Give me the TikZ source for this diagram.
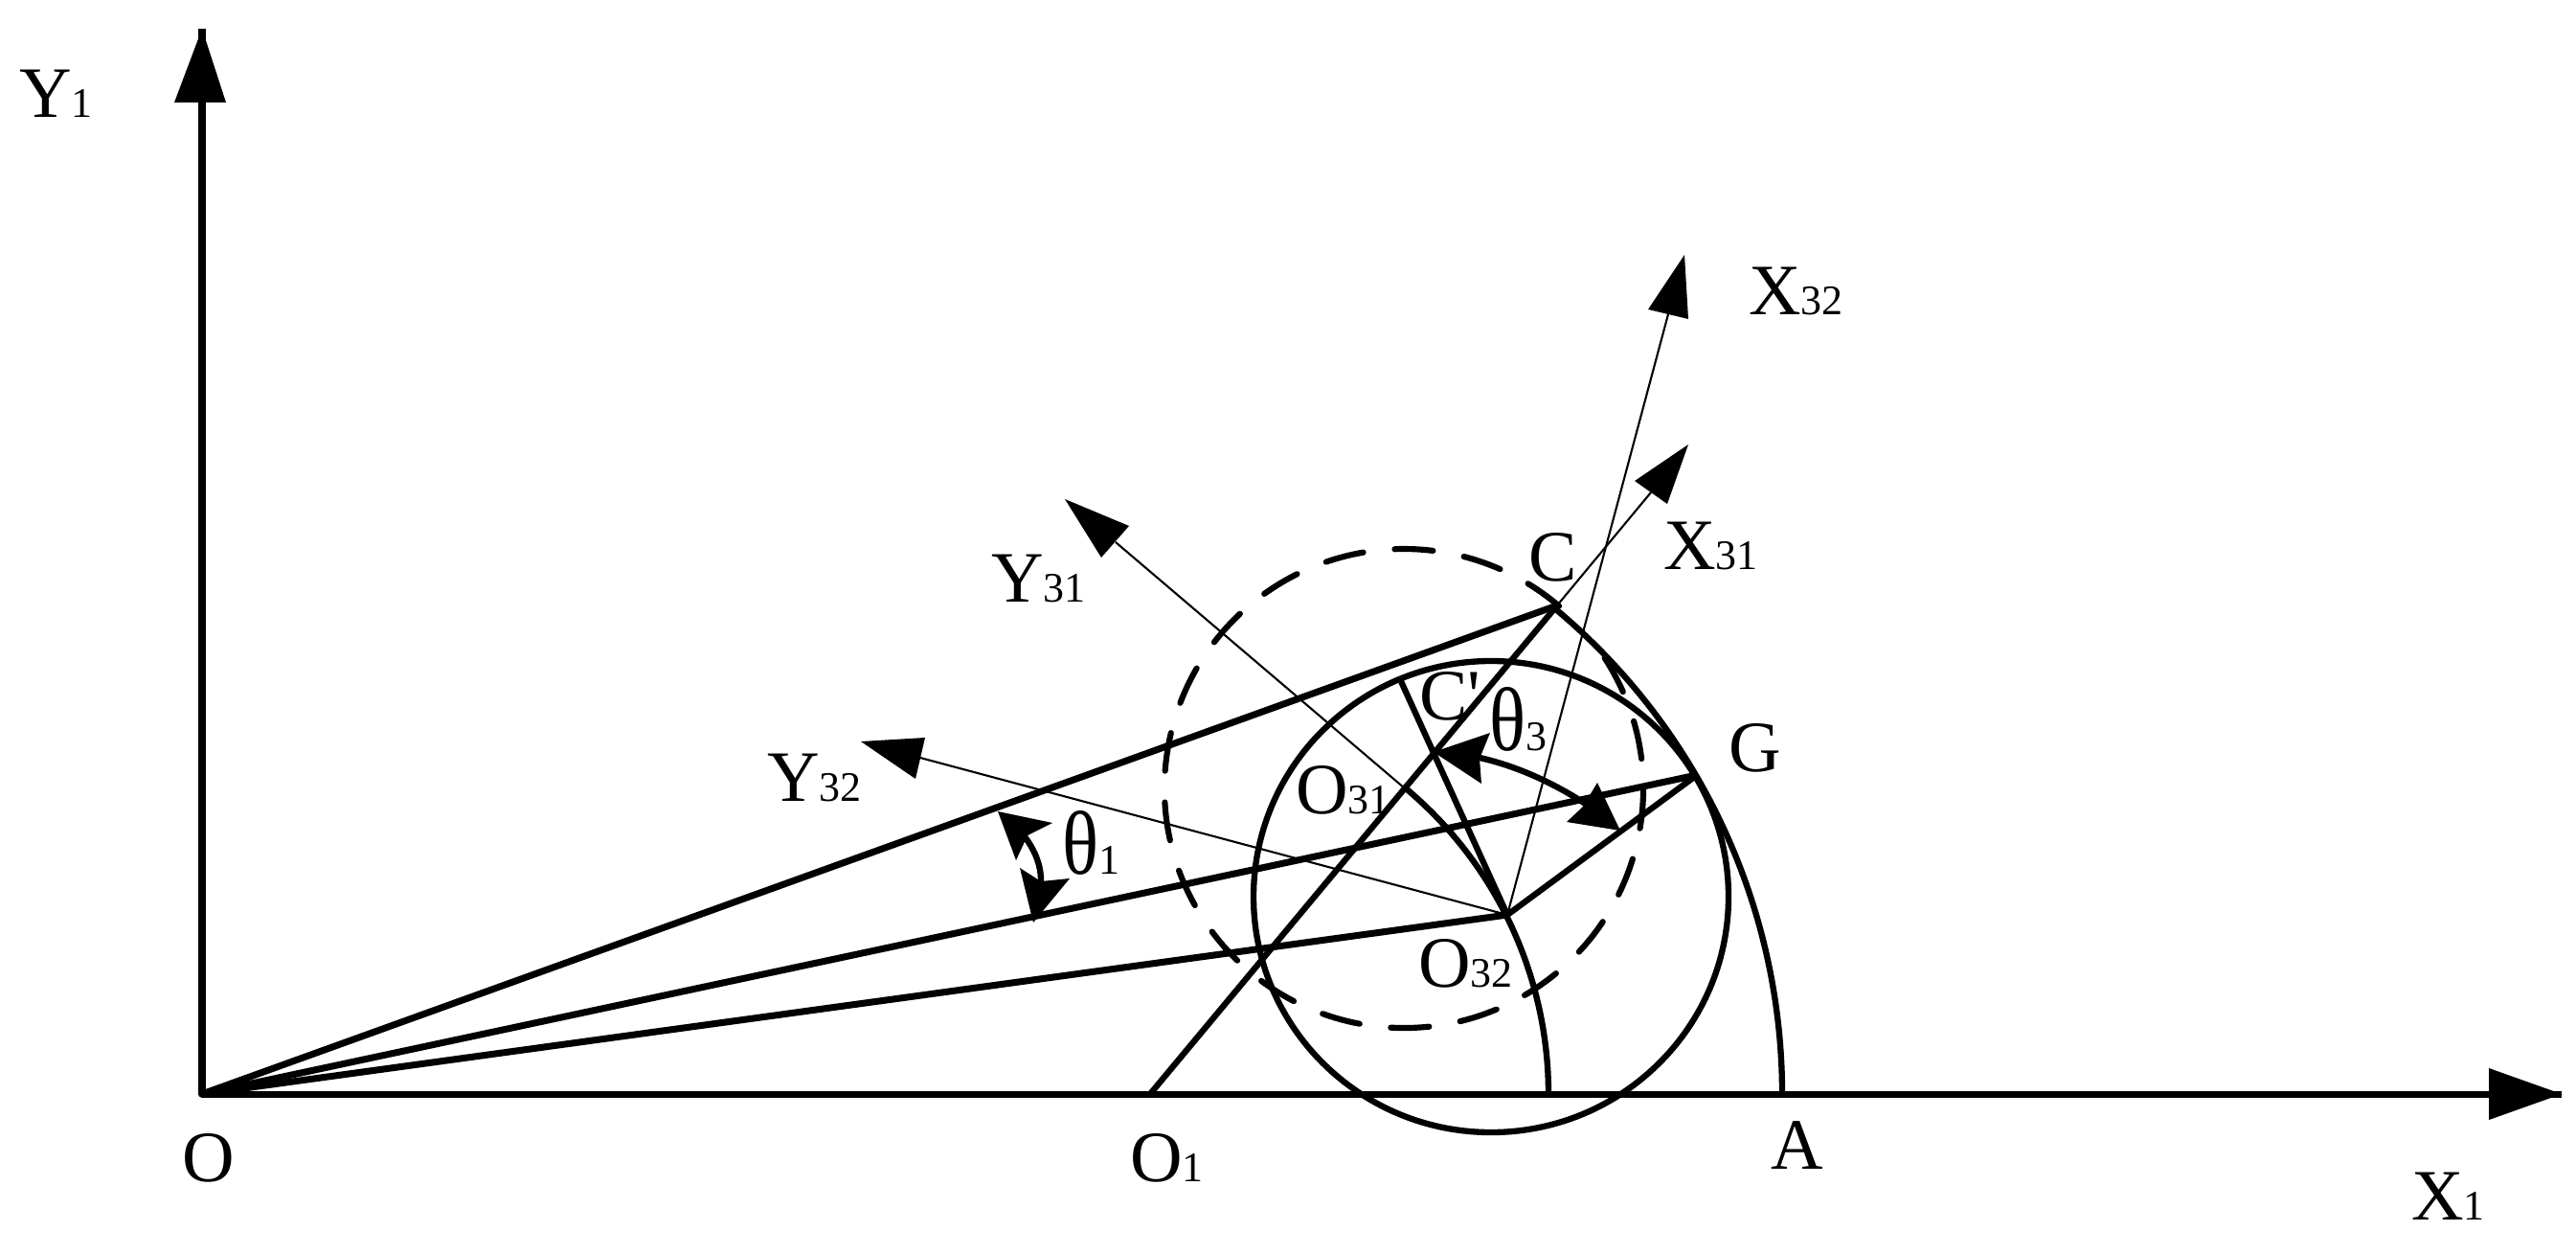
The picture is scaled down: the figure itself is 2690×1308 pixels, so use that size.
\documentclass[tikz,border=0pt]{standalone}
\usepackage{fontspec}
\newfontfamily\plainserif{Liberation Serif}
\newcommand{\lab}[2]{{\plainserif\fontsize{43}{43}\selectfont #1\fontsize{25}{25}\selectfont #2}}
\newcommand{\thet}{\scalebox{1.05}[1.25]{θ}}
\def\uu{0.02cm}
\tikzset{
  heavy/.style={line width=4pt,line join=round},
  curve/.style={line width=3.6pt},
  fine/.style={line width=1.2pt},
  dashcircle/.style={line width=3.5pt,line cap=round,dash pattern=on 22.8pt off 18.7pt},
  txt/.style={anchor=base west,inner sep=0pt,outer sep=0pt}
}
\begin{document}
\begin{tikzpicture}[x=\uu,y=\uu]
\useasboundingbox (0,0) rectangle (2690,-1308);
% key points
\coordinate (O) at (211,-1142);
\coordinate (XT) at (2675,-1142);
\coordinate (YT) at (211,-30);
\coordinate (O1) at (1201,-1142);
\coordinate (C) at (1626,-632);
\coordinate (Cp) at (1462,-709);
\coordinate (G) at (1772,-809);
\coordinate (O31) at (1467,-823);
\coordinate (O32) at (1574,-955);
\coordinate (CC) at (1557,-936);
\coordinate (DC) at (1466,-823);
\coordinate (X32b) at (1742,-328);
\coordinate (X31b) at (1724,-514);
\coordinate (Y31b) at (1165,-566);
\coordinate (Y32b) at (961,-791);
% axes
\draw[heavy] (YT) -- (O) -- (XT);
\fill (YT) -- (182,-107) -- (236,-107) -- cycle;
\fill (XT) -- (2599,-1115) -- (2599,-1169) -- cycle;
% thick lines
\draw[heavy] (O) -- (C);
\draw[heavy] (O) -- (G);
\draw[heavy] (O) -- (O32);
\draw[curve] (O32) -- (G);
\draw[curve] (O1) -- (C);
\draw[curve] (Cp) -- (O32);
% arcs
\draw[curve] (O1) ++(0:660*\uu) arc[start angle=0,end angle=50.2,radius=660*\uu];
\draw[curve] (O1) ++(0:416*\uu) arc[start angle=0,end angle=50.2,radius=416*\uu];
\draw[curve] (CC) ellipse[x radius=248*\uu,y radius=246*\uu];
\draw[dashcircle] (DC) ++(92.2:250*\uu) arc[start angle=92.2,end angle=49.5,radius=250*\uu];
\draw[dashcircle] (DC) ++(33:250*\uu) arc[start angle=33,end angle=-267,radius=250*\uu];
% thin lines with arrowheads
\draw[fine] (O32) -- (X32b);
\fill (1759,-266) -- (1721,-323) -- (1763,-333) -- cycle;
\draw[fine] (C) -- (X31b);
\fill (1763,-464) -- (1707,-502) -- (1741,-526) -- cycle;
\draw[fine] (O31) -- (Y31b);
\fill (1112,-521) -- (1179,-549) -- (1150,-582) -- cycle;
\draw[fine] (O32) -- (Y32b);
\fill (899,-774) -- (966,-770) -- (956,-813) -- cycle;
% theta 1
\draw[curve] (1066,-868) .. controls (1082,-888) and (1088,-905) .. (1087,-925);
\fill (1042,-847) -- (1099,-859) -- (1073,-872) -- (1061,-898) -- cycle;
\fill (1079,-963) -- (1065,-906) -- (1087,-920) -- (1117,-917) -- cycle;
% theta 3
\draw[curve] (1535,-789) .. controls (1575,-796) and (1620,-815) .. (1660,-842);
\fill (1497,-785) -- (1556,-765) -- (1545,-792) -- (1547,-818) -- cycle;
\fill (1692,-867) -- (1668,-817) -- (1653,-842) -- (1636,-858) -- cycle;
% labels
\node[txt] (lY1) at (20,-122) {\lab{Y}{1}};
\node[txt] (lO) at (190,-1233) {\lab{O}{}};
\node[txt] (lO1) at (1180,-1233) {\lab{O}{1}};
\node[txt] (lA) at (1849,-1220) {\lab{A}{}};
\node[txt] (lX1) at (2518,-1273) {\lab{X}{1}};
\node[txt] (lY32) at (801,-836) {\lab{Y}{32}};
\node[txt] (lY31) at (1035,-628) {\lab{Y}{31}};
\node[txt] (lX32) at (1826,-328) {\lab{X}{32}};
\node[txt] (lX31) at (1737,-594) {\lab{X}{31}};
\node[txt] (lC) at (1596,-606) {\lab{C}{}};
\node[txt] (lCp) at (1482,-751) {\lab{C'}{}};
\node[txt] (lt3) at (1555,-783) {\lab{\thet}{3}};
\node[txt] (lG) at (1805,-805) {\lab{G}{}};
\node[txt] (lO31) at (1353,-849) {\lab{O}{31}};
\node[txt] (lO32) at (1481,-1030) {\lab{O}{32}};
\node[txt] (lt1) at (1109,-912) {\lab{\thet}{1}};
\end{tikzpicture}
\end{document}
